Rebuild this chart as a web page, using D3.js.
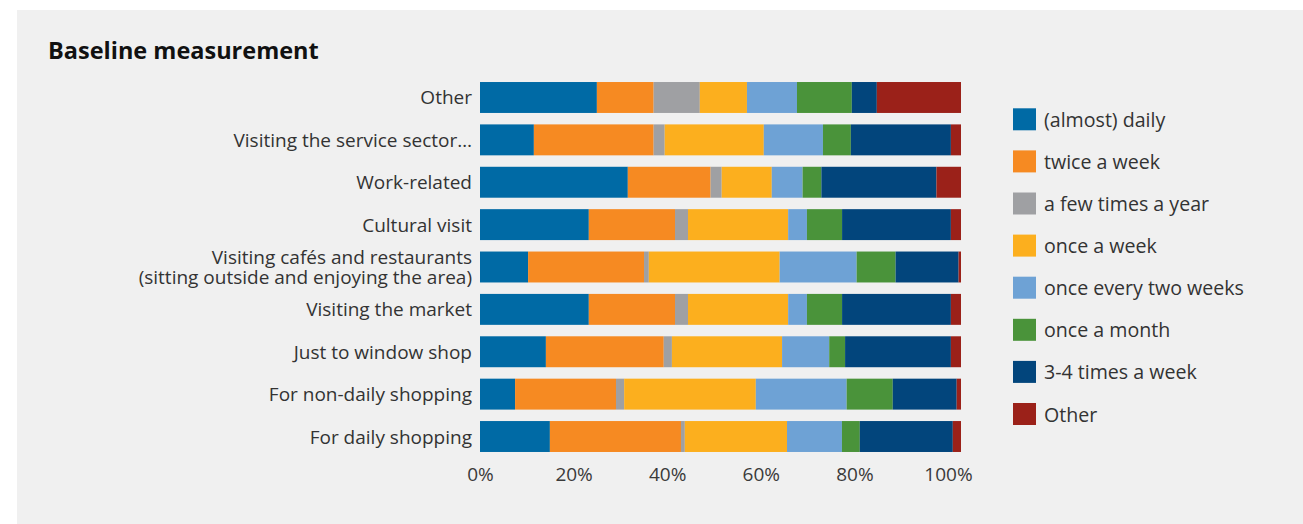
<!DOCTYPE html>
<html>
<head>
<meta charset="utf-8">
<script src="https://cdn.jsdelivr.net/npm/d3@7"></script>
<style>
  html, body { margin: 0; padding: 0; background: #ffffff; }
  svg { display: block; font-family: "Open Sans", "DejaVu Sans", sans-serif; }
</style>
</head>
<body>
<svg id="chart" width="1303" height="524"></svg>
<script>
// Trip purposes, top to bottom; "\n" splits a label onto two lines
const categories = [
  "Other",
  "Visiting the service sector…",
  "Work-related",
  "Cultural visit",
  "Visiting cafés and restaurants\n(sitting outside and enjoying the area)",
  "Visiting the market",
  "Just to window shop",
  "For non-daily shopping",
  "For daily shopping"
];

// Visit frequency shares (%) per purpose, in the same order as categories
const almostDaily     = [24.3, 11.2, 30.7, 22.6, 10.0, 22.6, 13.7,  7.3, 14.5];
const twiceAWeek      = [11.8, 24.9, 17.2, 17.9, 24.1, 17.9, 24.5, 21.0, 27.2];
const fewTimesAYear   = [ 9.6,  2.3,  2.3,  2.7,  1.0,  2.7,  1.7,  1.7,  0.8];
const onceAWeek       = [ 9.8, 20.6, 10.4, 20.8, 27.2, 20.8, 22.9, 27.4, 21.2];
const onceTwoWeeks    = [10.4, 12.3,  6.4,  3.9, 16.0,  3.9,  9.8, 18.9, 11.4];
const onceAMonth      = [11.4,  5.8,  3.9,  7.3,  8.1,  7.3,  3.3,  9.6,  3.7];
const threeFourAWeek  = [ 5.2, 20.8, 23.9, 22.6, 13.1, 22.6, 22.0, 13.3, 19.3];
const otherFrequency  = [17.5,  2.1,  5.1,  2.1,  0.5,  2.1,  2.1,  0.9,  1.7];

const seriesNames = [
  "(almost) daily",
  "twice a week",
  "a few times a year",
  "once a week",
  "once every two weeks",
  "once a month",
  "3-4 times a week",
  "Other"
];
const seriesValues = [
  almostDaily, twiceAWeek, fewTimesAYear, onceAWeek,
  onceTwoWeeks, onceAMonth, threeFourAWeek, otherFrequency
];
const seriesColors = [
  "#006aa5", "#f68a22", "#9fa0a3", "#fcaf1e",
  "#6ea2d5", "#4a933a", "#02457c", "#9b2119"
];

const tickValues = [0, 0.2, 0.4, 0.6, 0.8, 1];

// Rows for the stack layout
const rows = categories.map((c, i) => {
  const r = { category: c };
  seriesNames.forEach((s, j) => { r[s] = seriesValues[j][i]; });
  return r;
});

const stacked = d3.stack()
  .keys(seriesNames)
  .offset(d3.stackOffsetExpand)(rows);

const svg = d3.select("#chart");

// Grey panel
svg.append("rect")
  .attr("x", 17).attr("y", 10)
  .attr("width", 1286).attr("height", 514)
  .attr("fill", "#f0f0f0");

// Title
svg.append("text")
  .attr("x", 48).attr("y", 59)
  .attr("font-size", 23.5)
  .attr("font-weight", 700)
  .attr("fill", "#111111")
  .text("Baseline measurement");

const x = d3.scaleLinear().domain([0, 1]).range([480, 961]);
const y = d3.scaleBand()
  .domain(categories)
  .range([76.3, 457.7])
  .paddingInner(0.27)
  .paddingOuter(0.135);

const color = d3.scaleOrdinal().domain(seriesNames).range(seriesColors);

// Stacked bars
svg.append("g")
  .selectAll("g")
  .data(stacked)
  .join("g")
    .attr("fill", d => color(d.key))
  .selectAll("rect")
  .data(d => d)
  .join("rect")
    .attr("x", d => x(d[0]))
    .attr("y", d => y(d.data.category))
    .attr("width", d => x(d[1]) - x(d[0]))
    .attr("height", y.bandwidth());

// Category labels, right aligned, centred on each bar
const labelSize = 19;
const lineGap = 20;
const catLabels = svg.append("g")
  .attr("font-size", labelSize)
  .attr("fill", "#333333")
  .attr("text-anchor", "end");

categories.forEach(c => {
  const lines = c.split("\n");
  const cy = y(c) + y.bandwidth() / 2;
  const t = catLabels.append("text")
    .attr("x", 472)
    .attr("y", cy - (lines.length - 1) * lineGap / 2)
    .attr("dominant-baseline", "central");
  lines.forEach((ln, k) => {
    t.append("tspan")
      .attr("x", 472)
      .attr("dy", k === 0 ? 0 : lineGap)
      .text(ln);
  });
});

// Percentage axis along the bottom
const xLabels = d3.scaleLinear().domain([0, 1]).range([480, 948]);
const axis = svg.append("g")
  .attr("transform", "translate(0,458)")
  .call(d3.axisBottom(xLabels)
    .tickValues(tickValues)
    .tickFormat(d3.format(".0%"))
    .tickSize(0)
    .tickPadding(9.5));
axis.select(".domain").remove();
axis.selectAll("text")
  .attr("font-family", "\"Open Sans\", \"DejaVu Sans\", sans-serif")
  .attr("font-size", 19)
  .attr("fill", "#3a3a3a");

// Legend
const legend = svg.append("g")
  .selectAll("g")
  .data(seriesNames)
  .join("g")
    .attr("transform", (d, i) => `translate(1013,${108.3 + i * 42.1})`);

legend.append("rect")
  .attr("width", 23)
  .attr("height", 22)
  .attr("fill", d => color(d));

legend.append("text")
  .attr("x", 31)
  .attr("y", 11)
  .attr("dominant-baseline", "central")
  .attr("font-size", 19.6)
  .attr("fill", "#333333")
  .text(d => d);
</script>
</body>
</html>
